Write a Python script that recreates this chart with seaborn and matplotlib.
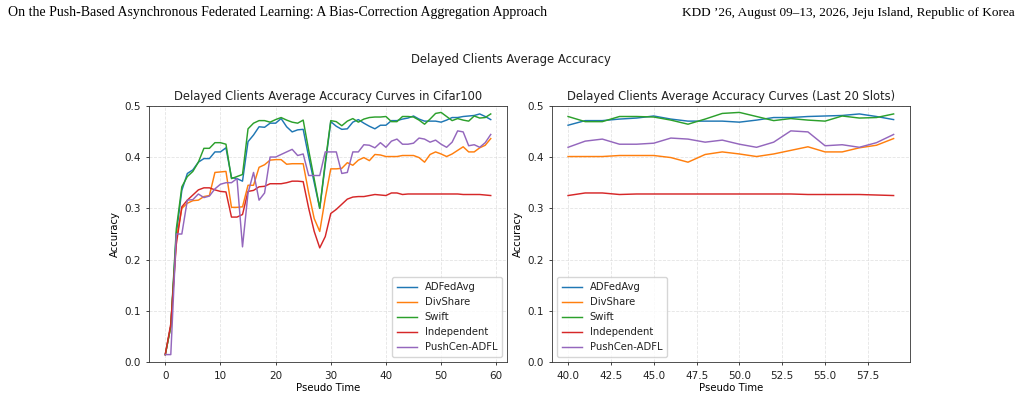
import matplotlib
matplotlib.use("Agg")
import matplotlib.pyplot as plt
import seaborn as sns
import pandas as pd

# values, one list per method (pseudo time 0..59)
pseudo_time = list(range(60))
methods = ["ADFedAvg", "DivShare", "Swift", "Independent", "PushCen-ADFL"]

adfedavg = [0.015, 0.07, 0.25, 0.335, 0.368, 0.375, 0.390, 0.397, 0.397, 0.410,
            0.410, 0.418, 0.360, 0.358, 0.353, 0.430, 0.443, 0.459, 0.458, 0.466,
            0.466, 0.475, 0.459, 0.449, 0.453, 0.454, 0.400, 0.350, 0.300, 0.385,
            0.469, 0.460, 0.454, 0.455, 0.468, 0.473, 0.466, 0.460, 0.455, 0.462,
            0.462, 0.471, 0.471, 0.474, 0.476, 0.480, 0.474, 0.470, 0.470, 0.470,
            0.468, 0.472, 0.477, 0.477, 0.479, 0.480, 0.481, 0.484, 0.479, 0.473]
divshare = [0.015, 0.07, 0.24, 0.300, 0.310, 0.315, 0.316, 0.323, 0.325, 0.370,
            0.371, 0.372, 0.302, 0.302, 0.303, 0.345, 0.345, 0.380, 0.385, 0.394,
            0.395, 0.395, 0.386, 0.387, 0.387, 0.387, 0.330, 0.280, 0.255, 0.320,
            0.377, 0.377, 0.378, 0.389, 0.384, 0.394, 0.399, 0.393, 0.405, 0.404,
            0.401, 0.401, 0.401, 0.403, 0.403, 0.403, 0.399, 0.390, 0.405, 0.410,
            0.406, 0.401, 0.406, 0.413, 0.420, 0.410, 0.410, 0.418, 0.423, 0.436]
swift = [0.015, 0.07, 0.26, 0.342, 0.362, 0.372, 0.390, 0.417, 0.417, 0.428,
         0.428, 0.425, 0.358, 0.362, 0.366, 0.455, 0.466, 0.471, 0.471, 0.468,
         0.473, 0.477, 0.472, 0.468, 0.466, 0.472, 0.413, 0.357, 0.300, 0.390,
         0.471, 0.469, 0.461, 0.470, 0.475, 0.468, 0.474, 0.477, 0.478, 0.478,
         0.479, 0.469, 0.469, 0.479, 0.479, 0.478, 0.472, 0.464, 0.474, 0.485,
         0.487, 0.479, 0.471, 0.475, 0.472, 0.470, 0.480, 0.476, 0.477, 0.484]
independent = [0.015, 0.075, 0.23, 0.303, 0.316, 0.326, 0.336, 0.340, 0.340, 0.336,
               0.333, 0.332, 0.283, 0.283, 0.288, 0.333, 0.335, 0.342, 0.343, 0.348,
               0.348, 0.348, 0.350, 0.353, 0.353, 0.352, 0.300, 0.255, 0.223, 0.245,
               0.290, 0.298, 0.308, 0.318, 0.322, 0.323, 0.323, 0.325, 0.327, 0.326,
               0.325, 0.330, 0.330, 0.327, 0.328, 0.328, 0.328, 0.328, 0.328, 0.328,
               0.328, 0.328, 0.328, 0.328, 0.327, 0.327, 0.327, 0.327, 0.326, 0.325]
pushcen_adfl = [0.015, 0.015, 0.250, 0.250, 0.316, 0.317, 0.328, 0.321, 0.324, 0.338,
                0.347, 0.350, 0.350, 0.358, 0.225, 0.330, 0.370, 0.316, 0.330, 0.400,
                0.400, 0.405, 0.410, 0.415, 0.403, 0.406, 0.364, 0.364, 0.364, 0.410,
                0.410, 0.410, 0.368, 0.370, 0.410, 0.410, 0.424, 0.423, 0.418, 0.428,
                0.419, 0.431, 0.435, 0.425, 0.425, 0.427, 0.437, 0.435, 0.429, 0.433,
                0.425, 0.419, 0.429, 0.451, 0.449, 0.422, 0.424, 0.419, 0.428, 0.444]

series = [adfedavg, divshare, swift, independent, pushcen_adfl]
df = pd.concat(
    [pd.DataFrame({"Pseudo Time": pseudo_time, "Accuracy": vals, "Method": name})
     for name, vals in zip(methods, series)],
    ignore_index=True,
)
palette = sns.color_palette("tab10", 5)

plt.rcParams.update({
    "font.size": 7.5,
    "axes.titlesize": 8.3,
    "axes.labelsize": 7.3,
    "xtick.labelsize": 7.5,
    "ytick.labelsize": 7.5,
    "legend.fontsize": 7.2,
    "lines.linewidth": 1.05,
    "axes.linewidth": 0.6,
    "axes.edgecolor": "#333333",
    "xtick.major.width": 0.6,
    "ytick.major.width": 0.6,
    "xtick.major.size": 2.5,
    "ytick.major.size": 2.5,
    "text.color": "#222222",
    "xtick.color": "#222222",
    "ytick.color": "#222222",
})

fig = plt.figure(figsize=(10.22, 3.96), dpi=100)
ax1 = fig.add_axes([0.1458, 0.0851, 0.3503, 0.6479])
ax2 = fig.add_axes([0.5399, 0.0851, 0.3504, 0.6479])

sns.lineplot(data=df, x="Pseudo Time", y="Accuracy", hue="Method",
             hue_order=methods, palette=palette, ax=ax1, linewidth=1.05)
sns.lineplot(data=df[df["Pseudo Time"] >= 40], x="Pseudo Time", y="Accuracy",
             hue="Method", hue_order=methods, palette=palette, ax=ax2, linewidth=1.05)

ax1.set_title("Delayed Clients Average Accuracy Curves in Cifar100", pad=4)
ax2.set_title("Delayed Clients Average Accuracy Curves (Last 20 Slots)", pad=4)
ax2.set_xticks([40.0, 42.5, 45.0, 47.5, 50.0, 52.5, 55.0, 57.5])
for ax, loc in [(ax1, "lower right"), (ax2, "lower left")]:
    ax.set_ylim(0, 0.5)
    ax.set_yticks([0.0, 0.1, 0.2, 0.3, 0.4, 0.5])
    ax.set_xlabel("Pseudo Time", labelpad=2)
    ax.set_ylabel("Accuracy", labelpad=3)
    ax.grid(True, linestyle="--", linewidth=0.6, color="#d9d9d9", alpha=0.7)
    ax.set_axisbelow(True)
    ax.legend(loc=loc, frameon=True, borderpad=0.5, labelspacing=0.5)

fig.suptitle("Delayed Clients Average Accuracy", y=0.865, fontsize=8.4)
fig.text(0.008, 0.968, "On the Push-Based Asynchronous Federated Learning: "
         "A Bias-Correction Aggregation Approach",
         ha="left", va="center", fontsize=10, family="Liberation Serif", color="black")
fig.text(0.993, 0.968, "KDD \u201926, August 09\u201313, 2026, Jeju Island, Republic of Korea",
         ha="right", va="center", fontsize=9.5, family="Liberation Serif", color="black")

fig.savefig("out.png", dpi=100)
